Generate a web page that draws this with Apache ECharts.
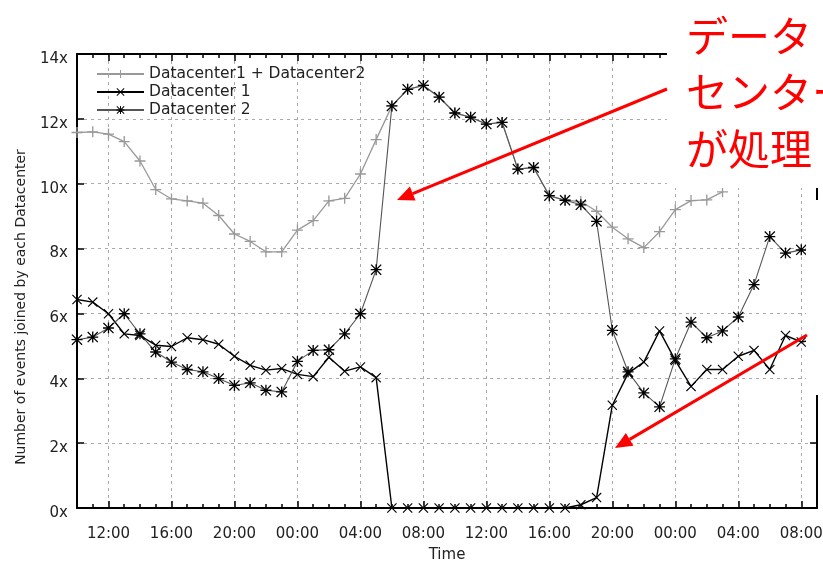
<!DOCTYPE html>
<html>
<head>
<meta charset="utf-8">
<title>Datacenter</title>
<script src="https://cdn.jsdelivr.net/npm/echarts@6.0.0/dist/echarts.min.js"></script>
<style>
  html, body { margin: 0; padding: 0; background: #fff; }
  #main { width: 823px; height: 562px; }
</style>
</head>
<body>
<div id="main"></div>
<script>
// 横轴：每小时一个点（10:00 ~ 第三天 09:00）
var hours = [
  "10:00","11:00","12:00","13:00","14:00","15:00","16:00","17:00","18:00","19:00","20:00","21:00","22:00","23:00",
  "00:00","01:00","02:00","03:00","04:00","05:00","06:00","07:00","08:00","09:00","10:00","11:00","12:00","13:00",
  "14:00","15:00","16:00","17:00","18:00","19:00","20:00","21:00","22:00","23:00",
  "00:00","01:00","02:00","03:00","04:00","05:00","06:00","07:00","08:00","09:00"
];
var yTicks = [0, 2, 4, 6, 8, 10, 12, 14];

var seriesNames = ["Datacenter1 + Datacenter2", "Datacenter 1", "Datacenter 2"];

// Datacenter1 + Datacenter2（右上被遮住的部分省略）
var sumVals = [11.58, 11.6, 11.53, 11.3, 10.7, 9.82, 9.53, 9.47, 9.4, 9.02,
  8.45, 8.22, 7.9, 7.9, 8.57, 8.86, 9.47, 9.55, 10.3, 11.36,
  12.4, 12.91, 13.03, 12.67, 12.18, 12.05, 11.84, 11.89, 10.45, 10.5, 9.63, 9.49,
  9.45, 9.15, 8.66, 8.3, 8.03, 8.52, 9.2, 9.48, 9.5, 9.75];

// Datacenter 1
var dc1Vals = [6.43, 6.35, 5.99, 5.37, 5.32, 5.02, 4.98, 5.25, 5.19, 5.05,
  4.68, 4.40, 4.25, 4.30, 4.12, 4.05, 4.65, 4.22, 4.35, 4.02,
  0, 0, 0, 0, 0, 0, 0, 0, 0, 0, 0, 0,
  0.1, 0.32, 3.17, 4.15, 4.5, 5.46, 4.55, 3.75, 4.27, 4.27,
  4.68, 4.86, 4.27, 5.32, 5.12, 5.2];

// Datacenter 2
var dc2Vals = [5.19, 5.27, 5.55, 5.99, 5.37, 4.81, 4.50, 4.27, 4.20, 3.99,
  3.78, 3.86, 3.63, 3.58, 4.52, 4.86, 4.88, 5.37, 5.99, 7.35,
  12.4, 12.91, 13.03, 12.67, 12.18, 12.05, 11.84, 11.89, 10.45, 10.5, 9.63, 9.49,
  9.35, 8.84, 5.48, 4.2, 3.55, 3.12, 4.6, 5.73, 5.25, 5.46,
  5.89, 6.89, 8.37, 7.86, 7.96, 7.9];

// 红色注释文字
var noteLines = ["データ", "センター", "が処理"];

var font = "DejaVu Sans";

// gnuplot 风格的点符号
var plusPath = "path://M0,4.4H10V5.6H0Z M4.4,0H5.6V10H4.4Z";
var crossPath = "path://M0.8,0L5,4.2L9.2,0L10,0.8L5.8,5L10,9.2L9.2,10L5,5.8L0.8,10L0,9.2L4.2,5L0,0.8Z";
var starPath = "path://M0,4.4H10V5.6H0Z M4.4,0H5.6V10H4.4Z M0.8,0L5,4.2L9.2,0L10,0.8L5.8,5L10,9.2L9.2,10L5,5.8L0.8,10L0,9.2L4.2,5L0,0.8Z";

// 每4小时一个主刻度（12:00, 16:00, ...）
function major(i) { return (i - 2) % 4 === 0; }

// 红色箭头
function arrow(x1, y1, x2, y2) {
  var dx = x2 - x1, dy = y2 - y1;
  var len = Math.sqrt(dx * dx + dy * dy);
  var ux = dx / len, uy = dy / len;
  var hl = 17, hw = 7.5;
  var bx = x2 - ux * hl, by = y2 - uy * hl;
  return [
    { type: "line", z: 101, shape: { x1: x1, y1: y1, x2: bx, y2: by }, style: { stroke: "#f00", lineWidth: 3 } },
    { type: "polygon", z: 101, shape: { points: [[x2, y2], [bx - uy * hw, by + ux * hw], [bx + uy * hw, by - ux * hw]] }, style: { fill: "#f00" } }
  ];
}

var myChart = echarts.init(document.getElementById("main"), null, { renderer: "canvas" });

var gridLine = { show: true, lineStyle: { color: "#aaa", type: [3, 4], width: 1 } };

var graphics = [
  // 上一张图残留的 "Time"
  { type: "text", x: 445, y: 4, z: 99, style: { text: "Time", font: "15px " + font, fill: "#333", align: "center", verticalAlign: "bottom" } },
  // y 轴标题
  { type: "text", x: 21, y: 307, rotation: Math.PI / 2, z: 99,
    style: { text: "Number of events joined by each Datacenter", font: "14px " + font, fill: "#222", align: "center", verticalAlign: "middle" } },
  // 遮挡用的白色方块
  { type: "rect", z: 100, shape: { x: 667, y: 0, width: 156, height: 188 }, style: { fill: "#fff" } },
  { type: "rect", z: 100, shape: { x: 806, y: 200, width: 17, height: 195 }, style: { fill: "#fff" } }
];
noteLines.forEach(function (t, i) {
  graphics.push({ type: "text", x: 686, y: 36 + i * 56.5, z: 101,
    style: { text: t, font: "42px 'Noto Sans CJK JP'", fill: "#f00", align: "left", verticalAlign: "middle" } });
});
graphics = graphics.concat(arrow(667, 89, 397, 200), arrow(807, 335, 615, 448));

var option = {
  animation: false,
  backgroundColor: "#fff",
  textStyle: { fontFamily: font },
  grid: { left: 77, right: 6, top: 54, bottom: 54, containLabel: false, outerBoundsMode: "none" },
  legend: {
    orient: "vertical",
    left: 91,
    top: 61,
    itemWidth: 47,
    itemHeight: 10,
    itemGap: 2,
    data: seriesNames,
    textStyle: { fontSize: 15.5, color: "#222", fontFamily: font }
  },
  xAxis: [
    {
      type: "category", data: hours, boundaryGap: false, position: "bottom",
      name: "Time", nameLocation: "middle", nameGap: 40,
      nameTextStyle: { fontSize: 15, color: "#222", fontFamily: font },
      axisLine: { lineStyle: { color: "#000", width: 2 } },
      axisTick: { inside: true, length: 4, interval: 0, lineStyle: { color: "#000", width: 1.5 } },
      axisLabel: { interval: major, margin: 19, fontSize: 15, color: "#222", fontFamily: font },
      splitLine: { show: true, interval: major, lineStyle: gridLine.lineStyle }
    },
    {
      type: "category", data: hours, boundaryGap: false, position: "bottom",
      axisLine: { show: false },
      axisTick: { inside: true, length: 7, interval: major, lineStyle: { color: "#000", width: 1.5 } },
      axisLabel: { show: false }, splitLine: { show: false }
    },
    {
      type: "category", data: hours, boundaryGap: false, position: "top",
      axisLine: { lineStyle: { color: "#000", width: 2 } },
      axisTick: { inside: true, length: 4, interval: 0, lineStyle: { color: "#000", width: 1.5 } },
      axisLabel: { show: false }, splitLine: { show: false }
    },
    {
      type: "category", data: hours, boundaryGap: false, position: "top",
      axisLine: { show: false },
      axisTick: { inside: true, length: 7, interval: major, lineStyle: { color: "#000", width: 1.5 } },
      axisLabel: { show: false }, splitLine: { show: false }
    }
  ],
  yAxis: [
    {
      type: "value", min: yTicks[0], max: yTicks[yTicks.length - 1], interval: 2, position: "left",
      axisLine: { show: true, lineStyle: { color: "#000", width: 2 } },
      axisTick: { show: true, inside: true, length: 7, lineStyle: { color: "#000", width: 1.5 } },
      axisLabel: { formatter: "{value}x", margin: 9, verticalAlign: "top", lineHeight: 10, fontSize: 15, color: "#222", fontFamily: font },
      splitLine: gridLine
    },
    {
      type: "value", min: yTicks[0], max: yTicks[yTicks.length - 1], interval: 2, position: "right",
      axisLine: { show: true, lineStyle: { color: "#000", width: 2 } },
      axisTick: { show: true, inside: true, length: 7, lineStyle: { color: "#000", width: 1.5 } },
      axisLabel: { show: false },
      splitLine: { show: false }
    }
  ],
  series: [
    {
      name: seriesNames[0], type: "line", data: sumVals,
      symbol: plusPath, symbolSize: 11, showAllSymbol: true,
      lineStyle: { color: "#999", width: 1.3 },
      itemStyle: { color: "#999" }
    },
    {
      name: seriesNames[1], type: "line", data: dc1Vals,
      symbol: crossPath, symbolSize: 10, showAllSymbol: true,
      lineStyle: { color: "#000", width: 1.4 },
      itemStyle: { color: "#000" }
    },
    {
      name: seriesNames[2], type: "line", data: dc2Vals,
      symbol: starPath, symbolSize: 11, showAllSymbol: true,
      lineStyle: { color: "#555", width: 1.1 },
      itemStyle: { color: "#000" }
    }
  ],
  graphic: graphics
};

myChart.setOption(option);
</script>
</body>
</html>
